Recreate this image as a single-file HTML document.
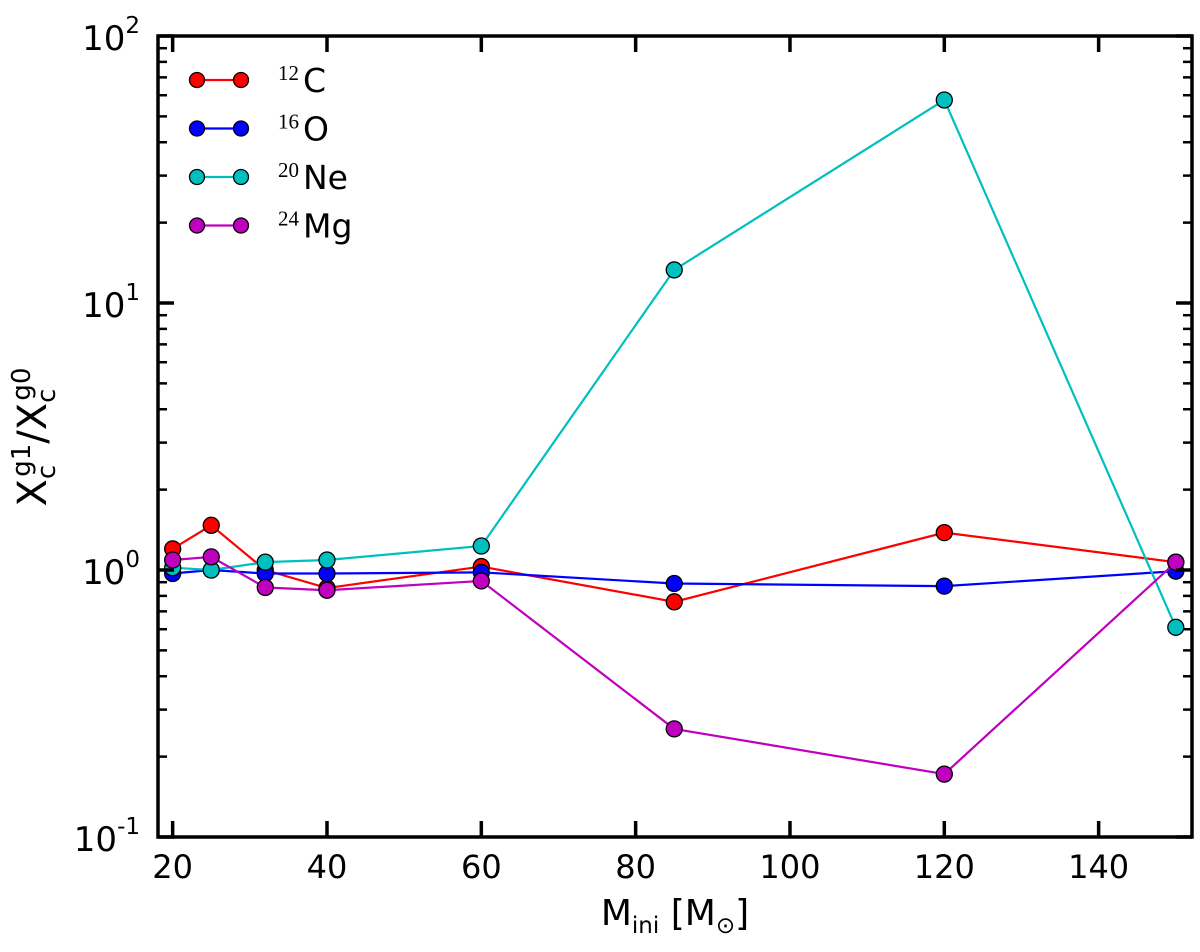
<!DOCTYPE html>
<html><head><meta charset="utf-8"><style>
body{margin:0;background:#fff;}
svg text{font-family:"DejaVu Sans","Liberation Sans",sans-serif;}
</style></head><body>
<svg id="chart" width="1200" height="947" xmlns="http://www.w3.org/2000/svg">
<g id="plot"></g>
</svg>
<script>
const masses=[20,25,32,40,60,85,120,150];
const seriesC=[1.20,1.47,1.0,0.856,1.03,0.76,1.38,1.07];
const seriesO=[0.97,1.0,0.97,0.97,0.98,0.89,0.87,0.99];
const seriesNe=[1.02,1.0,1.07,1.09,1.23,13.3,57.6,0.61];
const seriesMg=[1.09,1.12,0.86,0.84,0.91,0.254,0.172,1.07];
const seriesNames=["12|C","16|O","20|Ne","24|Mg"];
const xTicks=[20,40,60,80,100,120,140];
const yExps=[-1,0,1,2];

const L=158,R=1192,T=36,B=837;
const xmin=18.1,xmax=152.1;
const X=v=>L+(v-xmin)/(xmax-xmin)*(R-L);
const Y=v=>B-(Math.log10(v)+1)/3*(B-T);
const NS="http://www.w3.org/2000/svg";
const g=document.getElementById('plot');
function mk(t,a,p){const e=document.createElementNS(NS,t);for(const k in a)e.setAttribute(k,a[k]);(p||g).appendChild(e);return e;}

const data=[seriesC,seriesO,seriesNe,seriesMg];
const colors=["#ff0000","#0000ff","#00bfbf","#bf00bf"];
const keys=["c12","o16","ne20","mg24"];
data.forEach((s,i)=>{
  const pts=masses.map((m,j)=>X(m)+","+Y(s[j])).join(" ");
  const pl=mk('polyline',{points:pts,fill:'none',stroke:colors[i],'stroke-width':2.2});
  
  
  masses.forEach((m,j)=>{
    const c=mk('circle',{cx:X(m),cy:Y(s[j]),r:8,fill:colors[i],stroke:'#000','stroke-width':1.3});
    
    
  });
});

const fr=mk('rect',{x:L,y:T,width:R-L,height:B-T,fill:'none',stroke:'#000','stroke-width':3.5});



xTicks.forEach(t=>{
  const x=X(t);
  mk('line',{x1:x,y1:B,x2:x,y2:B-16,stroke:'#000','stroke-width':3.5});
  mk('line',{x1:x,y1:T,x2:x,y2:T+16,stroke:'#000','stroke-width':3.5});
  const tx=mk('text',{x:x,y:B+41,'font-size':32,'text-anchor':'middle'});
  tx.textContent=t;
  
  
});
yExps.forEach(e=>{
  const y=Y(Math.pow(10,e));
  mk('line',{x1:L,y1:y,x2:L+16,y2:y,stroke:'#000','stroke-width':3.5});
  mk('line',{x1:R,y1:y,x2:R-16,y2:y,stroke:'#000','stroke-width':3.5});
  const tx=mk('text',{x:140,y:y+14,'font-size':34,'text-anchor':'end'});
  tx.innerHTML='10<tspan dy="-17" font-size="23">'+e+'</tspan>';
  
  
  if(e<2) for(let k=2;k<10;k++){
    const yy=Y(k*Math.pow(10,e));
    mk('line',{x1:L,y1:yy,x2:L+9,y2:yy,stroke:'#000','stroke-width':2.5});
    mk('line',{x1:R,y1:yy,x2:R-9,y2:yy,stroke:'#000','stroke-width':2.5});
  }
});

const xt=mk('text',{x:675,y:925,'font-size':36,'text-anchor':'middle','font-family':'Liberation Serif, serif'});
xt.innerHTML='M<tspan dy="8" font-size="23">ini</tspan><tspan dy="-8"> [M</tspan><tspan dy="8" font-size="23">⊙</tspan><tspan dy="-8">]</tspan>';


const yt=mk('text',{transform:'translate(46,437) rotate(-90)','font-size':40,'text-anchor':'middle','font-family':'Liberation Serif, serif'});
yt.innerHTML='X<tspan dy="9" font-size="26">c</tspan><tspan dx="-12" dy="-25" font-size="26">g1</tspan><tspan dy="16">/X</tspan><tspan dy="9" font-size="26">c</tspan><tspan dx="-12" dy="-25" font-size="26">g0</tspan>';



seriesNames.forEach((n,i)=>{
  const y=80+i*48.5;
  const lg=mk('g',{});
  
  
  mk('line',{x1:197,y1:y,x2:241,y2:y,stroke:colors[i],'stroke-width':2.2},lg);
  mk('circle',{cx:197,cy:y,r:7.5,fill:colors[i],stroke:'#000','stroke-width':1.3},lg);
  mk('circle',{cx:241,cy:y,r:7.5,fill:colors[i],stroke:'#000','stroke-width':1.3},lg);
  const [iso,el]=n.split('|');
  const t=mk('text',{x:278,y:y+12,'font-size':33},lg);
  t.innerHTML='<tspan font-size="21" dy="-12" font-family="Liberation Serif, serif">'+iso+'</tspan><tspan dx="4" dy="12">'+el+'</tspan>';
});
</script>
</body></html>
